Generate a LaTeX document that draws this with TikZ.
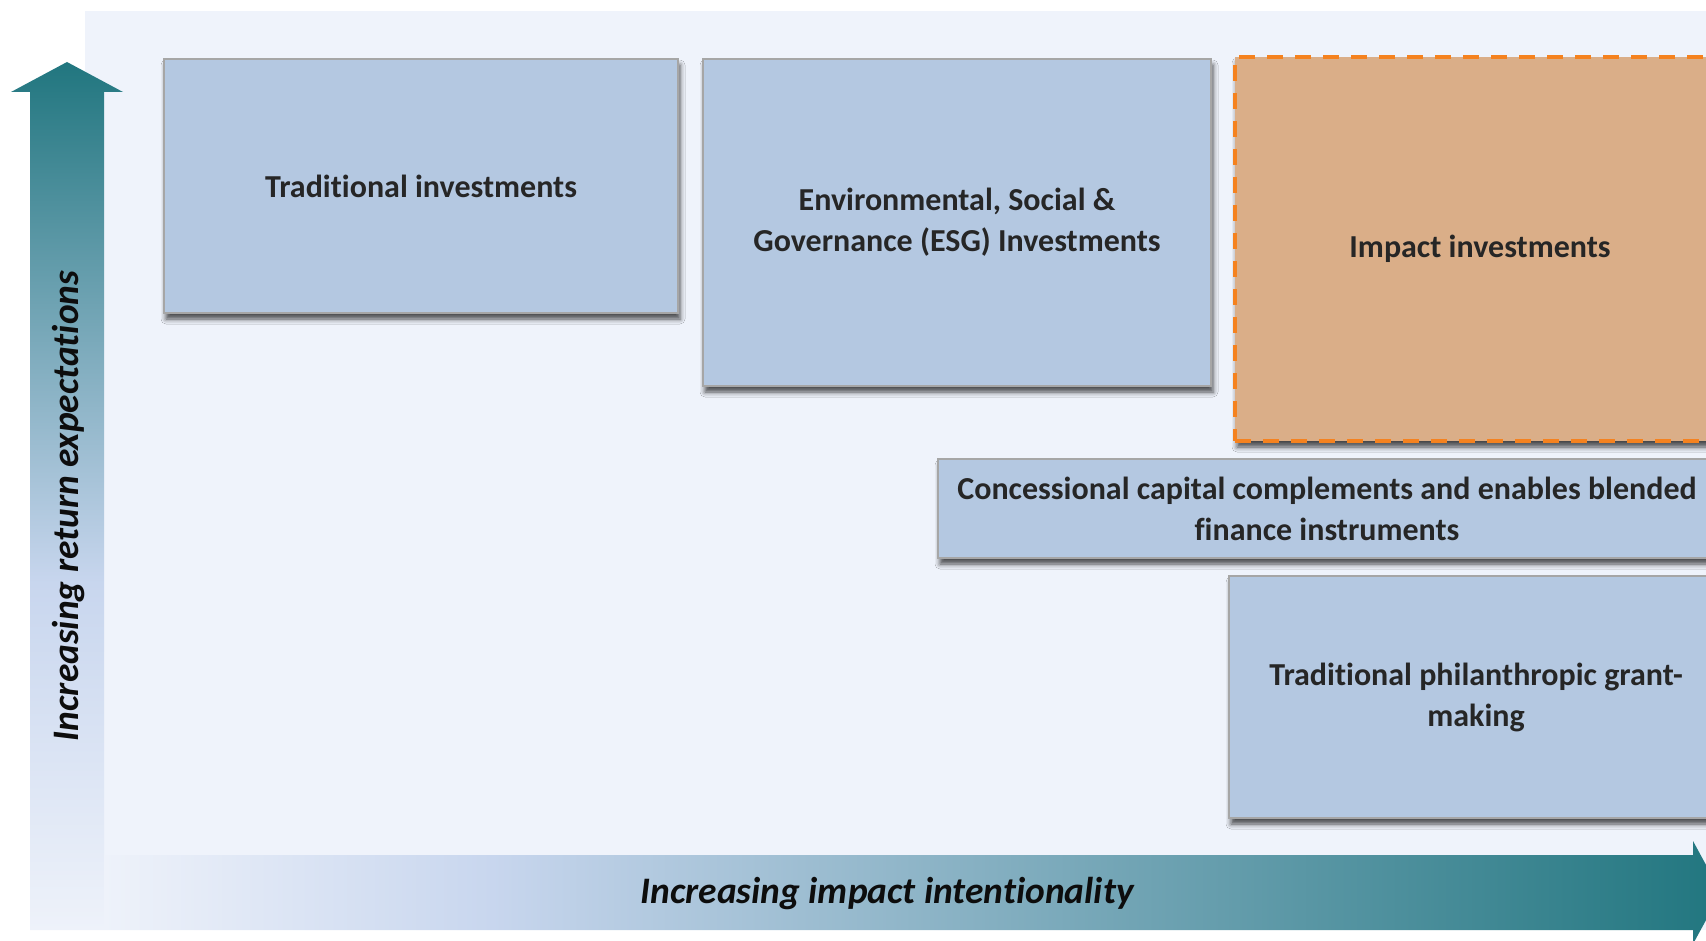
\documentclass[tikz,border=0pt]{standalone}
\usepackage{fontspec}
\setmainfont{Carlito}[Ligatures=NoCommon]
\usetikzlibrary{shadows.blur}
\definecolor{panelbg}{HTML}{EFF3FB}
\definecolor{paleend}{HTML}{EEF2FA}
\definecolor{lavmid}{HTML}{C8D6EE}
\definecolor{tealend}{HTML}{21767F}
\definecolor{boxblue}{HTML}{B4C8E1}
\definecolor{boxline}{HTML}{A6A6A6}
\definecolor{impactfill}{HTML}{DAAE88}
\definecolor{impactline}{HTML}{F5821F}
\definecolor{txtgray}{HTML}{262626}
\pgfdeclarehorizontalshading{impactshade}{100bp}{color(0bp)=(paleend); color(25bp)=(paleend); color(37bp)=(lavmid); color(75bp)=(tealend); color(100bp)=(tealend)}
\pgfdeclareverticalshading{returnshade}{100bp}{color(0bp)=(paleend); color(25bp)=(paleend); color(45bp)=(lavmid); color(75bp)=(tealend); color(100bp)=(tealend)}

\begin{document}
\begin{tikzpicture}
	[x=0.5pt,y=-0.5pt,
	 invbox/.style={draw=boxline,line width=1pt,fill=boxblue,text=txtgray,align=center,inner sep=0pt,
	   font=\bfseries\fontsize{16}{20.5}\selectfont,
	   blur shadow={shadow xshift=1pt,shadow yshift=-3pt,shadow blur radius=2.5pt,shadow opacity=70}},
	 impactbox/.style={invbox,draw=impactline,fill=impactfill,line width=1.75pt,dash pattern=on 8pt off 6pt},
	 axislabel/.style={font=\bfseries\itshape\fontsize{18.7}{22}\selectfont,text=black!95}];
\useasboundingbox (0,0) rectangle (1706,941);
\fill[panelbg] (85,11) rectangle (1706,930);
\shade[shading=returnshade] (30,930) -- (30,92) -- (11,92) -- (67,62) -- (123,92) -- (104,92) -- (104,930) -- cycle;
\shade[shading=impactshade] (104,855) -- (1693,855) -- (1693,841) -- (1721,892.5) -- (1693,944) -- (1693,930) -- (104,930) -- cycle;

\node[invbox,minimum width=257pt,minimum height=127pt] (trad) at (421,186) {Traditional investments};
\node[invbox,minimum width=254pt,minimum height=163.5pt] (esg) at (957,222.5) {Environmental, Social \&\\Governance (ESG) Investments};
\node[impactbox,minimum width=245pt,minimum height=192pt] (impact) at (1480,249) {Impact investments};
\node[invbox,minimum width=389pt,minimum height=49.5pt] (concess) at (1327,508.5) {Concessional capital complements and enables blended\\finance instruments};
\node[invbox,minimum width=247pt,minimum height=121pt] (philan) at (1476,697) {Traditional philanthropic grant-\\making};

\node[axislabel] (impactlabel) at (887,894) {Increasing impact intentionality};
\node[axislabel,rotate=90] (returnlabel) at (69,506) {Increasing return expectations};
\end{tikzpicture}
\end{document}
